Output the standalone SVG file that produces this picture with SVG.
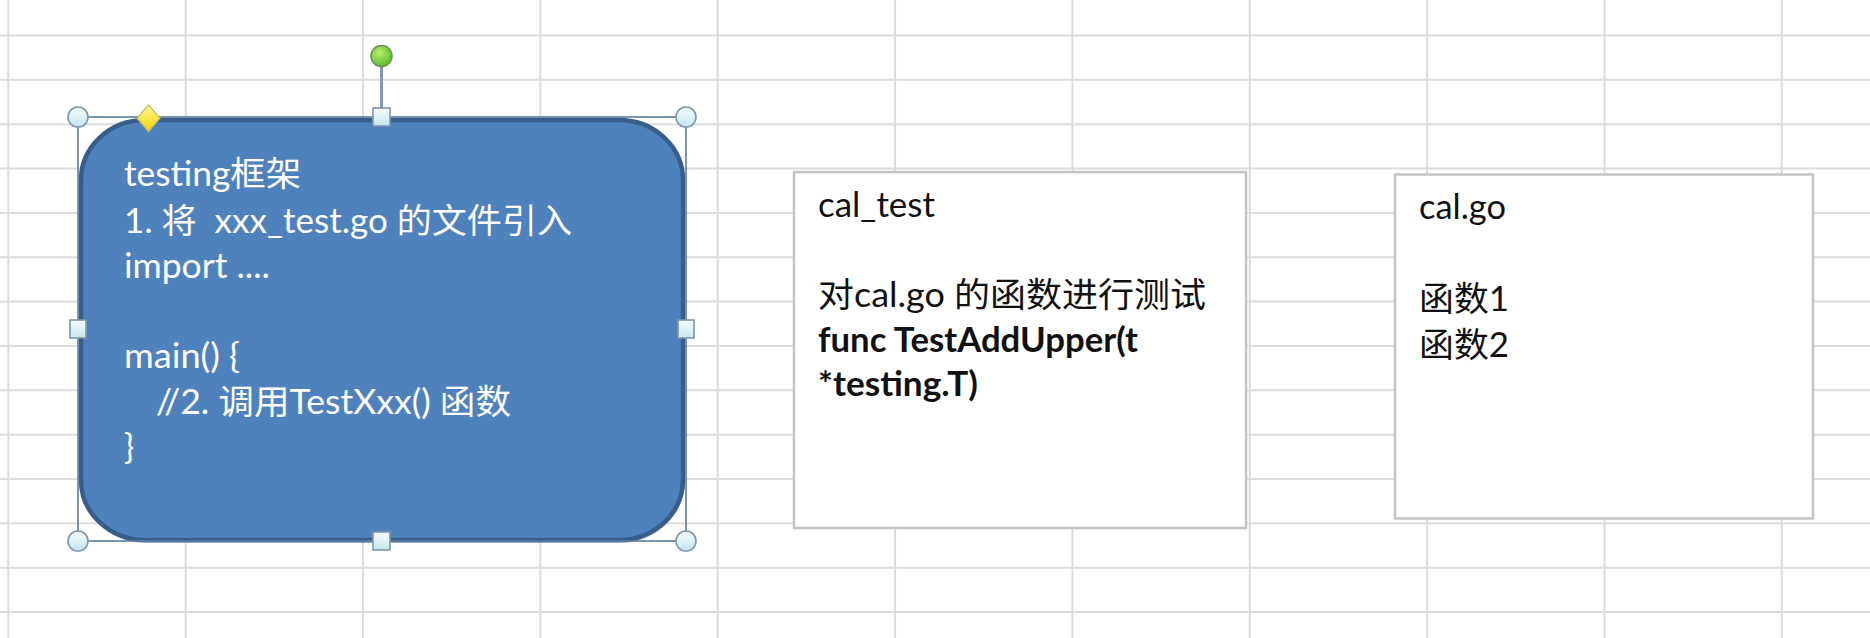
<svg xmlns="http://www.w3.org/2000/svg" width="1870" height="638" viewBox="0 0 1870 638">
  <defs>
    <linearGradient id="hdl" x1="0" y1="0" x2="0" y2="1">
      <stop offset="0" stop-color="#f6fcfd"/>
      <stop offset="1" stop-color="#c4e7f0"/>
    </linearGradient>
    <radialGradient id="grn" cx="0.4" cy="0.35" r="0.7">
      <stop offset="0" stop-color="#b6f06a"/>
      <stop offset="1" stop-color="#5cb82a"/>
    </radialGradient>
    <linearGradient id="yel" x1="0" y1="0" x2="0" y2="1">
      <stop offset="0" stop-color="#fff69a"/>
      <stop offset="1" stop-color="#f4d800"/>
    </linearGradient>
    <style>
      .grid { stroke: #dcdcdc; stroke-width: 2; fill: none; }
      .box { fill: #ffffff; stroke: #c3c3c3; stroke-width: 2.5; }
      .blue { fill: #4f81bd; stroke: #385d8a; stroke-width: 4.5; }
      .sel { fill: none; stroke: #5b7ca3; stroke-width: 1.6; }
      .h { fill: url(#hdl); stroke: #7f96ab; stroke-width: 1.6; }
      .wt { font-family: "Lato", "Noto Sans CJK SC", sans-serif; font-size: 34px; fill: #ffffff; }
      .bt { font-family: "Lato", "Noto Sans CJK SC", sans-serif; font-size: 34px; fill: #111111; }
      .bold { font-weight: bold; }
    </style>
  </defs>
  <rect width="1870" height="638" fill="#ffffff"/>
  <g id="grid">
    <path class="grid" d="M8.3 0V638 M185.65 0V638 M363 0V638 M540.35 0V638 M717.7 0V638 M895.05 0V638 M1072.4 0V638 M1249.75 0V638 M1427.1 0V638 M1604.45 0V638 M1781.8 0V638
      M0 35.5H1870 M0 79.85H1870 M0 124.2H1870 M0 168.55H1870 M0 212.9H1870 M0 257.25H1870 M0 301.6H1870 M0 345.95H1870 M0 390.3H1870 M0 434.65H1870 M0 479H1870 M0 523.35H1870 M0 567.7H1870 M0 612.05H1870"/>
  </g>
  <g id="connectors"></g>
  <g id="node-testing">
    <rect x="82" y="123" width="602" height="420" rx="64" ry="60" fill="#2f4f76" opacity="0.35"/>
    <rect class="blue" x="81" y="120" width="602" height="420" rx="64" ry="60"/>
    <text class="wt" x="124" y="186" textLength="177" lengthAdjust="spacingAndGlyphs">testing框架</text>
    <text class="wt" x="124" y="233" textLength="448" lengthAdjust="spacingAndGlyphs" xml:space="preserve">1. 将  xxx_test.go 的文件引入</text>
    <text class="wt" x="124" y="278" textLength="146" lengthAdjust="spacingAndGlyphs">import ....</text>
    <text class="wt" x="124" y="368" textLength="116" lengthAdjust="spacingAndGlyphs">main() {</text>
    <text class="wt" x="156" y="414" textLength="355" lengthAdjust="spacingAndGlyphs">//2. 调用TestXxx() 函数</text>
    <text class="wt" x="124" y="459">}</text>
    <rect class="sel" x="78" y="117" width="608" height="424"/>
    <line x1="381.5" y1="66" x2="381.5" y2="108" stroke="#7f9ab5" stroke-width="3"/>
    <circle cx="381.5" cy="56" r="10.5" fill="url(#grn)" stroke="#6f8f5a" stroke-width="1.5"/>
    <polygon points="148.5,105 160,118.3 148.5,131.5 137,118.3" fill="url(#yel)" stroke="#cdb860" stroke-width="1.2"/>
    <circle class="h" cx="78" cy="117" r="10"/>
    <circle class="h" cx="686" cy="117" r="10"/>
    <circle class="h" cx="78" cy="541" r="10"/>
    <circle class="h" cx="686" cy="541" r="10"/>
    <rect class="h" x="373" y="108" width="17" height="18"/>
    <rect class="h" x="373" y="532" width="17" height="18"/>
    <rect class="h" x="70" y="320" width="16" height="18"/>
    <rect class="h" x="678" y="320" width="16" height="18"/>
  </g>
  <g id="node-cal-test">
    <rect class="box" x="794" y="172" width="452" height="356"/>
    <text class="bt" x="818" y="217" textLength="117" lengthAdjust="spacingAndGlyphs">cal_test</text>
    <text class="bt" x="818" y="307" textLength="388" lengthAdjust="spacingAndGlyphs">对cal.go 的函数进行测试</text>
    <text class="bt bold" x="818" y="352" textLength="320" lengthAdjust="spacingAndGlyphs">func TestAddUpper(t</text>
    <text class="bt bold" x="818" y="396" textLength="160" lengthAdjust="spacingAndGlyphs">*testing.T)</text>
  </g>
  <g id="node-cal-go">
    <rect class="box" x="1395" y="174.5" width="418" height="344"/>
    <text class="bt" x="1419" y="219" textLength="87" lengthAdjust="spacingAndGlyphs">cal.go</text>
    <text class="bt" x="1419" y="311" textLength="90" lengthAdjust="spacingAndGlyphs">函数1</text>
    <text class="bt" x="1419" y="357" textLength="90" lengthAdjust="spacingAndGlyphs">函数2</text>
  </g>
</svg>
